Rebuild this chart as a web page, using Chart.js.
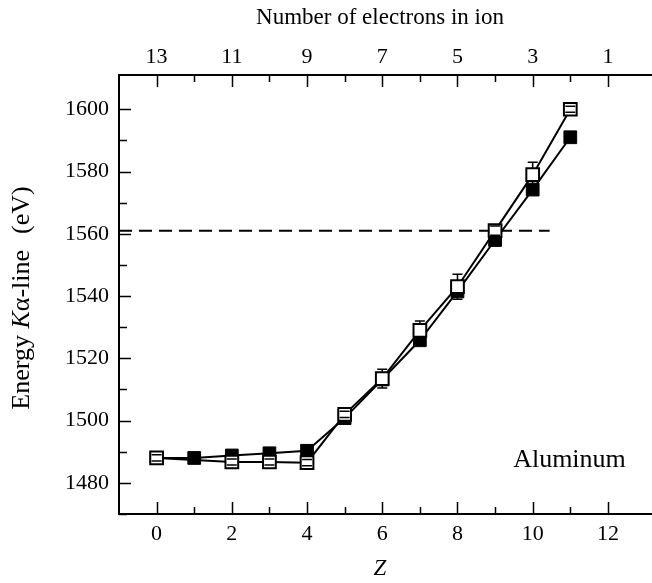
<!DOCTYPE html>
<html>
<head>
<meta charset="utf-8">
<script src="https://cdn.jsdelivr.net/npm/chart.js@4.4.1/dist/chart.umd.min.js"></script>
<style>
  html, body { margin: 0; padding: 0; background: #fff; }
  canvas { display: block; }
</style>
</head>
<body>
<canvas id="cvs_kalpha" width="652" height="583"></canvas>
<script>
// Z values and Kα energies (eV)
const zCalc = [0, 1, 2, 3, 4, 5, 6, 7, 8, 9, 10, 11];
const energiaCalc = [1488, 1488, 1488.8, 1489.5, 1490.3, 1500.8, 1513.2, 1525.8, 1541.5, 1558, 1574.2, 1591];

const zExp = [0, 2, 3, 4, 5, 6, 7, 8, 9, 10, 11];
const energiaExp = [1488, 1486.7, 1486.7, 1486.5, 1502, 1513.5, 1529, 1543, 1561, 1579, 1600];
const erroExp = [1, 1, 1, 1, 1, 3, 3, 4, 1.5, 4, 1];

// horizontal dashed reference line
const zLinha = [-1, 10.45];
const energiaLinha = [1561, 1561];

// ticks
const zTicks = [0, 1, 2, 3, 4, 5, 6, 7, 8, 9, 10, 11, 12];
const eletronsTicks = [13, 12, 11, 10, 9, 8, 7, 6, 5, 4, 3, 2, 1];
const energiaTicks = [1470, 1480, 1490, 1500, 1510, 1520, 1530, 1540, 1550, 1560, 1570, 1580, 1590, 1600];

const fonte = "'Liberation Serif', 'DejaVu Serif', serif";

function pontos(xs, ys) {
  return xs.map((x, i) => ({ x: x, y: ys[i] }));
}

// frame, inward ticks, error bars, rotated title and the element label
const extras = {
  id: "extras",
  afterDatasetsDraw(chart) {
    const ctx = chart.ctx;
    const y = chart.scales.y;
    const meta = chart.getDatasetMeta(0);
    ctx.save();
    ctx.strokeStyle = "#000";
    ctx.lineWidth = 1.5;
    meta.data.forEach((pt, i) => {
      const cx = pt.x;
      const cy = pt.y;
      const yTop = y.getPixelForValue(energiaExp[i] + erroExp[i]);
      const yBot = y.getPixelForValue(energiaExp[i] - erroExp[i]);
      const half = 6.5;
      ctx.beginPath();
      ctx.moveTo(cx - 5, yTop); ctx.lineTo(cx + 5, yTop);
      ctx.moveTo(cx - 5, yBot); ctx.lineTo(cx + 5, yBot);
      // stem only outside the marker
      if (yTop < cy - half) { ctx.moveTo(cx, yTop); ctx.lineTo(cx, cy - half); }
      if (yBot > cy + half) { ctx.moveTo(cx, yBot); ctx.lineTo(cx, cy + half); }
      ctx.stroke();
    });
    ctx.restore();
  },
  afterDraw(chart) {
    const ctx = chart.ctx;
    const area = chart.chartArea;
    const x = chart.scales.x;
    const y = chart.scales.y;
    ctx.save();
    ctx.strokeStyle = "#000";
    ctx.lineWidth = 2;

    // frame
    ctx.beginPath();
    ctx.moveTo(chart.width, area.top);
    ctx.lineTo(area.left, area.top);
    ctx.lineTo(area.left, area.bottom);
    ctx.lineTo(chart.width, area.bottom);
    ctx.stroke();

    // inward ticks
    ctx.lineWidth = 1.5;
    ctx.beginPath();
    x.ticks.forEach((t) => {
      const px = Math.round(x.getPixelForValue(t.value)) + 0.5;
      const len = t.value % 2 === 0 ? 12 : 7;
      ctx.moveTo(px, area.bottom); ctx.lineTo(px, area.bottom - len);
      ctx.moveTo(px, area.top); ctx.lineTo(px, area.top + len);
    });
    y.ticks.forEach((t) => {
      const py = Math.round(y.getPixelForValue(t.value)) + 0.5;
      const len = t.value % 20 === 0 ? 12 : 8;
      ctx.moveTo(area.left, py); ctx.lineTo(area.left + len, py);
    });
    ctx.stroke();

    // y title with italic K and a small gap before the unit
    const partes = [
      { t: "Energy ", f: "26px " + fonte, gap: 0 },
      { t: "K", f: "italic 26px " + fonte, gap: 0 },
      { t: "\u03b1-line", f: "26px " + fonte, gap: 16 },
      { t: "(eV)", f: "26px " + fonte, gap: 0 },
    ];
    let total = 0;
    partes.forEach((p) => { ctx.font = p.f; p.w = ctx.measureText(p.t).width; total += p.w + p.gap; });
    ctx.translate(22, 298);
    ctx.rotate(-Math.PI / 2);
    ctx.fillStyle = "#000";
    ctx.textBaseline = "middle";
    ctx.textAlign = "left";
    let pos = -total / 2;
    partes.forEach((p) => { ctx.font = p.f; ctx.fillText(p.t, pos, 0); pos += p.w + p.gap; });
    ctx.setTransform(1, 0, 0, 1, 0, 0);

    // element label
    ctx.font = "26px " + fonte;
    ctx.textBaseline = "alphabetic";
    ctx.fillText("Aluminum", x.getPixelForValue(9.48), y.getPixelForValue(1485));
    ctx.restore();
  },
};

new Chart(document.getElementById("cvs_kalpha"), {
  type: "scatter",
  data: {
    datasets: [
      {
        label: "exp",
        data: pontos(zExp, energiaExp),
        showLine: true,
        order: 0,
        borderColor: "#000",
        borderWidth: 2,
        pointStyle: "rect",
        pointRadius: 9,
        pointBorderWidth: 2,
        pointBackgroundColor: "#fff",
        pointBorderColor: "#000",
      },
      {
        label: "calc",
        data: pontos(zCalc, energiaCalc),
        showLine: true,
        order: 1,
        borderColor: "#000",
        borderWidth: 2,
        pointStyle: "rect",
        pointRadius: 9,
        pointBorderWidth: 1,
        pointBackgroundColor: "#000",
        pointBorderColor: "#000",
      },
      {
        label: "ref",
        data: pontos(zLinha, energiaLinha),
        showLine: true,
        order: 2,
        borderColor: "#000",
        borderWidth: 2,
        borderDash: [13, 7],
        pointRadius: 0,
      },
    ],
  },
  options: {
    responsive: false,
    animation: false,
    devicePixelRatio: 1,
    layout: { padding: 0 },
    plugins: {
      legend: { display: false },
      tooltip: { enabled: false },
    },
    scales: {
      x: {
        type: "linear",
        position: "bottom",
        min: -1,
        max: 12.88,
        afterBuildTicks: (s) => { s.ticks = zTicks.map((v) => ({ value: v })); },
        afterFit: (s) => { s.height = 69; },
        grid: { display: false, drawTicks: false },
        border: { display: false },
        ticks: {
          padding: 7,
          color: "#000",
          font: { family: fonte, size: 22 },
          maxRotation: 0,
          autoSkip: false,
          callback: (v) => (v % 2 === 0 ? String(v) : ""),
        },
        title: {
          display: true,
          text: "Z",
          color: "#000",
          padding: 0,
          font: { family: fonte, size: 23, style: "italic" },
        },
      },
      x2: {
        type: "linear",
        position: "top",
        min: -1,
        max: 12.88,
        afterBuildTicks: (s) => { s.ticks = zTicks.map((v) => ({ value: v })); },
        afterFit: (s) => { s.height = 75; },
        grid: { display: false, drawTicks: false },
        border: { display: false },
        ticks: {
          padding: 5,
          color: "#000",
          font: { family: fonte, size: 22 },
          maxRotation: 0,
          autoSkip: false,
          callback: (v) => (v % 2 === 0 ? String(eletronsTicks[zTicks.indexOf(v)]) : ""),
        },
        title: {
          display: true,
          text: "Number of electrons in ion",
          color: "#000",
          padding: { top: 4, bottom: 0 },
          font: { family: fonte, size: 23 },
        },
      },
      y: {
        type: "linear",
        min: 1470,
        max: 1611,
        afterBuildTicks: (s) => { s.ticks = energiaTicks.map((v) => ({ value: v })); },
        afterFit: (s) => { s.width = 119; },
        grid: { display: false, drawTicks: false },
        border: { display: false },
        ticks: {
          padding: 10,
          color: "#000",
          font: { family: fonte, size: 22 },
          autoSkip: false,
          callback: (v) => (v % 20 === 0 ? String(v) : ""),
        },
      },
    },
  },
  plugins: [extras],
});
</script>
</body>
</html>
